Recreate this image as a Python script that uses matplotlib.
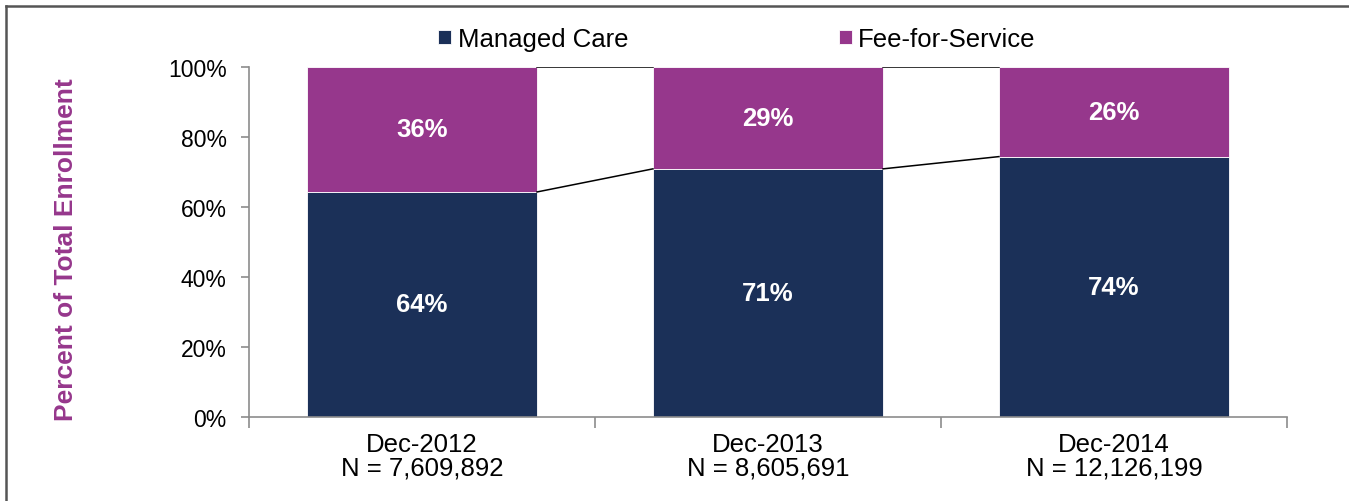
import matplotlib
matplotlib.use("Agg")
import matplotlib.pyplot as plt
from matplotlib.lines import Line2D
import numpy as np

plt.rcParams['font.family'] = ['Liberation Sans', 'DejaVu Sans']

# Data
periods = ['Dec-2012', 'Dec-2013', 'Dec-2014']
enrollment = ['7,609,892', '8,605,691', '12,126,199']
managed_care = [64.3, 70.9, 74.4]
fee_for_service = [35.7, 29.1, 25.6]
mc_labels = ['64%', '71%', '74%']
ffs_labels = ['36%', '29%', '26%']

navy = '#1B3058'
purple = '#96378C'
axis_gray = '#8C8C8C'

fig = plt.figure(figsize=(13.49, 5.02), dpi=100)
ax = fig.add_axes([249 / 1349, 1 - 418 / 502, (1287 - 249) / 1349, 350 / 502])

x = np.arange(len(periods))
w = 0.665
b1 = ax.bar(x, managed_care, w, color=navy, edgecolor='white', linewidth=0.6,
            label='Managed Care')
b2 = ax.bar(x, fee_for_service, w, bottom=managed_care, color=purple,
            edgecolor='white', linewidth=0.6, label='Fee-for-Service')

# series connector lines between neighbouring bars
tops = np.array(managed_care) + np.array(fee_for_service)
for i in range(len(periods) - 1):
    ax.plot([x[i] + w / 2, x[i + 1] - w / 2], [managed_care[i], managed_care[i + 1]],
            color='black', lw=1.1, zorder=3)
    ax.plot([x[i] + w / 2, x[i + 1] - w / 2], [tops[i], tops[i + 1]],
            color='black', lw=1.1, zorder=3)

for i in range(len(periods)):
    ax.text(x[i], managed_care[i] / 2, mc_labels[i], ha='center', va='center',
            color='white', fontsize=18.5, fontweight='bold')
    ax.text(x[i], managed_care[i] + fee_for_service[i] / 2, ffs_labels[i],
            ha='center', va='center', color='white', fontsize=18.5, fontweight='bold')

ax.set_xlim(-0.5, 2.5)
ax.set_ylim(0, 100)
ax.set_yticks(np.arange(0, 101, 20))
ax.set_yticklabels([f'{v}%' for v in range(0, 101, 20)])
ax.tick_params(axis='y', length=6, width=1.2, color=axis_gray, pad=10,
               labelsize=16.5)

ax.set_xticks([-0.5, 0.5, 1.5, 2.5])
ax.set_xticklabels([])
ax.tick_params(axis='x', which='major', length=8, width=1.2, color=axis_gray)
ax.set_xticks(x, minor=True)
ax.set_xticklabels([f'{p}\nN = {n}' for p, n in zip(periods, enrollment)],
                   minor=True, linespacing=0.95)
ax.tick_params(axis='x', which='minor', length=0, pad=11, labelsize=18.5)

for s in ['top', 'right']:
    ax.spines[s].set_visible(False)
for s in ['left', 'bottom']:
    ax.spines[s].set_color(axis_gray)
    ax.spines[s].set_linewidth(1.2)

fig.text(66 / 1349, 1 - 250 / 502, 'Percent of Total Enrollment', rotation=90,
         ha='center', va='center', color=purple, fontsize=19, fontweight='bold')

ax.legend(handles=[b1, b2], loc='center', ncol=2, frameon=False, fontsize=18.5,
          bbox_to_anchor=(737 / 1349, 1 - 40 / 502), bbox_transform=fig.transFigure,
          handlelength=0.5, handleheight=0.5, handletextpad=0.25, columnspacing=8.2)

# outer frame (top and left edges visible in the crop)
fig.add_artist(Line2D([6 / 1349, 6 / 1349], [0, 1 - 7 / 502], transform=fig.transFigure,
                      color='#555555', lw=1.8))
fig.add_artist(Line2D([6 / 1349, 1], [1 - 7 / 502, 1 - 7 / 502], transform=fig.transFigure,
                      color='#555555', lw=1.8))

fig.savefig('out.png', dpi=100)
